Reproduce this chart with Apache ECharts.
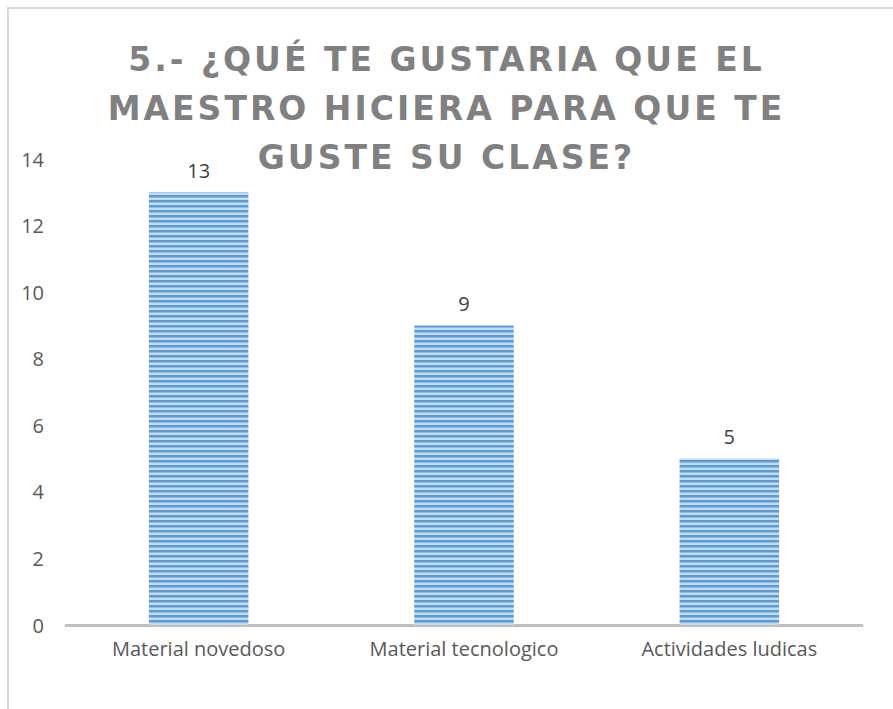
<!DOCTYPE html>
<html>
<head>
<meta charset="utf-8">
<script src="https://cdn.jsdelivr.net/npm/echarts@6/dist/echarts.min.js"></script>
<style>
  html, body { margin: 0; padding: 0; background: #fff; }
  #frame { position: absolute; left: 7px; top: 7px; width: 886px; height: 702px;
           border-left: 2px solid #d9d9d9; border-top: 2px solid #d9d9d9; box-sizing: border-box; }
  #chart { position: absolute; left: 0; top: 0; width: 893px; height: 709px; }
  /* the title in the original is spaced out */
  #chart text[style*="DejaVu"] { letter-spacing: 3px; }
</style>
</head>
<body>
<div id="frame"></div>
<div id="chart"></div>
<script>
const categories = ['Material novedoso', 'Material tecnologico', 'Actividades ludicas']
const values = [13, 9, 5]
const titleText = '5.- ¿QUÉ TE GUSTARIA QUE EL\nMAESTRO HICIERA PARA QUE TE\nGUSTE SU CLASE?'

// horizontal striped fill like the original bars
function stripePattern() {
  const c = document.createElement('canvas')
  c.width = 4
  c.height = 5
  const ctx = c.getContext('2d')
  ctx.fillStyle = '#c4dbf1'
  ctx.fillRect(0, 0, 4, 5)
  ctx.fillStyle = '#5b9bd5'
  ctx.fillRect(0, 0, 4, 2)
  ctx.fillStyle = '#8dbbe5'
  ctx.fillRect(0, 2, 4, 1)
  return c
}

const chart = echarts.init(document.getElementById('chart'), null, { renderer: 'svg' })
chart.setOption({
  animation: false,
  title: {
    text: titleText,
    left: 'center',
    top: 30,
    padding: [5, 5, 5, 19],
    textStyle: {
      fontFamily: 'DejaVu Sans',
      fontWeight: 'bold',
      fontSize: 33,
      color: '#808080',
      lineHeight: 49
    }
  },
  grid: { left: 66, right: 31, top: 159, bottom: 84 },
  xAxis: {
    type: 'category',
    data: categories,
    axisTick: { show: false },
    axisLine: { lineStyle: { color: '#bfbfbf', width: 3 } },
    axisLabel: { color: '#595959', fontSize: 20, fontFamily: 'Open Sans', margin: 13 }
  },
  yAxis: {
    type: 'value',
    min: 0,
    max: 14,
    interval: 2,
    splitLine: { show: false },
    axisLabel: { color: '#595959', fontSize: 20, fontFamily: 'Open Sans', margin: 22 }
  },
  series: [{
    type: 'bar',
    data: values,
    barWidth: '37.5%',
    itemStyle: {
      color: { image: stripePattern(), repeat: 'repeat' }
    },
    label: {
      show: true,
      position: 'top',
      distance: 12,
      color: '#404040',
      fontSize: 20,
      fontFamily: 'Open Sans'
    }
  }]
})
</script>
</body>
</html>
